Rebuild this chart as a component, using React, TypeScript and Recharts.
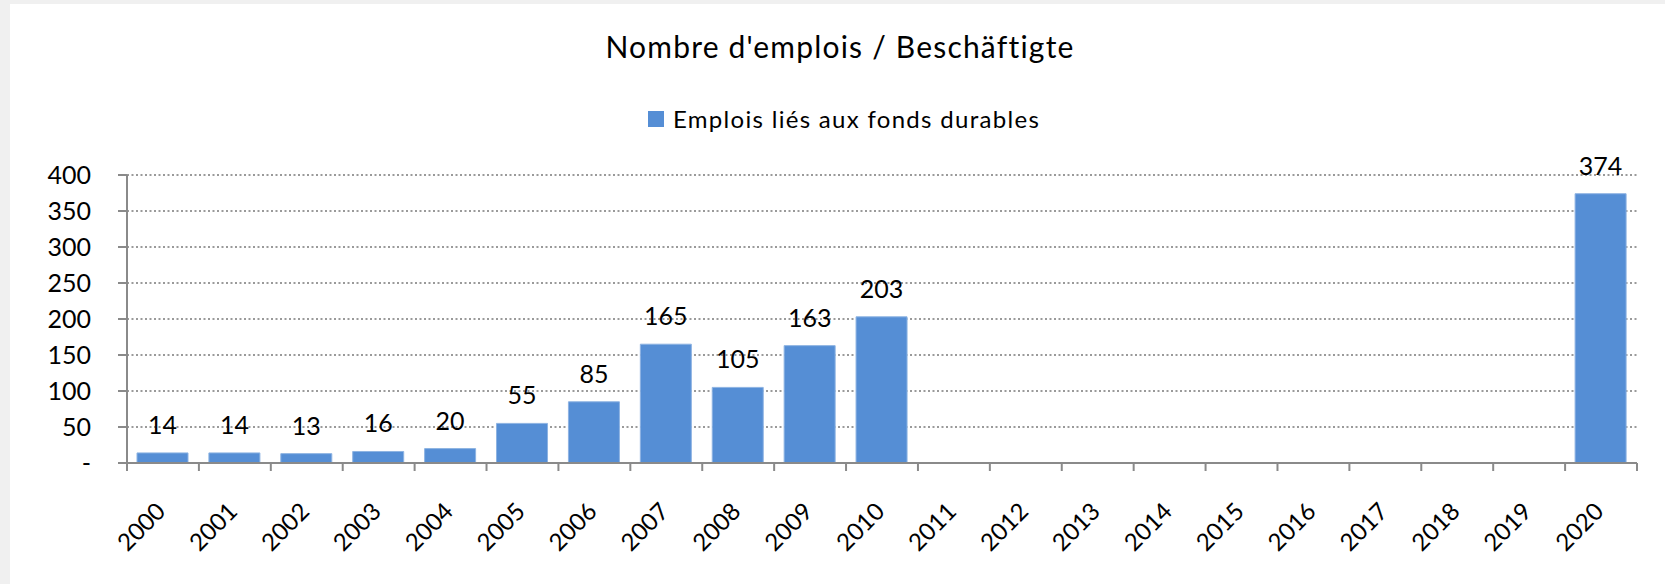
import React from 'react';
import { BarChart, Bar, XAxis, YAxis, CartesianGrid, LabelList } from 'recharts';

// Années et emplois liés aux fonds durables (2011-2019 : pas de données)
const YEARS = [
  '2000', '2001', '2002', '2003', '2004', '2005', '2006', '2007', '2008', '2009', '2010',
  '2011', '2012', '2013', '2014', '2015', '2016', '2017', '2018', '2019', '2020',
];
const EMPLOIS: (number | null)[] = [
  14, 14, 13, 16, 20, 55, 85, 165, 105, 163, 203,
  null, null, null, null, null, null, null, null, null, 374,
];
const Y_TICKS = [0, 50, 100, 150, 200, 250, 300, 350, 400];

const TITLE = "Nombre d'emplois / Beschäftigte";
const SERIES_NAME = 'Emplois liés aux fonds durables';

const FONT = 'Lato, "Open Sans", sans-serif';
const BAR_COLOR = '#558ed5';
const AXIS_COLOR = '#8a8a8a';

const CHART_W = 1655;
const CHART_H = 580;
const MARGIN = { top: 171, right: 28, bottom: 21, left: 0 };
const Y_AXIS_W = 117;
const PLOT_W = CHART_W - MARGIN.right - MARGIN.left - Y_AXIS_W;
const BAND = PLOT_W / YEARS.length;

const data = YEARS.map((year, i) => ({ year, value: EMPLOIS[i] }));

function YearTick(props: any) {
  const { x, y, payload, index } = props;
  const left = x - BAND / 2;
  return (
    <g>
      <line x1={left} x2={left} y1={y} y2={y + 8} stroke={AXIS_COLOR} strokeWidth={2} />
      {index === YEARS.length - 1 && (
        <line x1={x + BAND / 2} x2={x + BAND / 2} y1={y} y2={y + 8} stroke={AXIS_COLOR} strokeWidth={2} />
      )}
      <text
        x={0}
        y={0}
        transform={`translate(${x + 4},${y + 50}) rotate(-45)`}
        textAnchor="end"
        fontSize={24}
        fontFamily={FONT}
        fill="#000"
      >
        {payload.value}
      </text>
    </g>
  );
}

export default function App() {
  return (
    <div
      style={{
        position: 'absolute',
        left: 0,
        top: 0,
        width: 1665,
        height: 584,
        background: '#f0f0f0',
        fontFamily: FONT,
      }}
    >
      <div style={{ position: 'absolute', left: 10, top: 4, width: CHART_W, height: CHART_H, background: '#fff' }}>
        <div
          style={{
            position: 'absolute',
            left: 0,
            width: 1660,
            top: 24,
            textAlign: 'center',
            fontSize: 30,
            letterSpacing: 1.2,
            lineHeight: '36px',
            color: '#000',
          }}
        >
          {TITLE}
        </div>
        <div
          style={{
            position: 'absolute',
            left: 638,
            top: 100,
            display: 'flex',
            alignItems: 'center',
            fontSize: 24,
            letterSpacing: 1.3,
            lineHeight: '30px',
            color: '#000',
          }}
        >
          <span style={{ display: 'inline-block', width: 16, height: 16, background: BAR_COLOR, marginRight: 9 }} />
          {SERIES_NAME}
        </div>
        <BarChart width={CHART_W} height={CHART_H} data={data} margin={MARGIN} barSize={51}>
          <CartesianGrid
            vertical={false}
            stroke="#9a9a9a"
            strokeWidth={2}
            strokeDasharray="2 2.5"
          />
          <XAxis
            dataKey="year"
            interval={0}
            height={100}
            axisLine={{ stroke: AXIS_COLOR, strokeWidth: 2 }}
            tickLine={false}
            tickSize={0}
            tickMargin={0}
            tick={<YearTick />}
          />
          <YAxis
            width={Y_AXIS_W}
            domain={[0, 400]}
            ticks={Y_TICKS}
            interval={0}
            axisLine={{ stroke: AXIS_COLOR, strokeWidth: 2 }}
            tickLine={{ stroke: AXIS_COLOR, strokeWidth: 2 }}
            tickSize={9}
            tickMargin={27}
            tickFormatter={(v: number) => (v === 0 ? '-' : String(v))}
            tick={{ fill: '#000', fontSize: 25, fontFamily: FONT }}
          />
          <Bar dataKey="value" fill={BAR_COLOR} stroke="#8db3e2" strokeWidth={1} isAnimationActive={false}>
            <LabelList
              dataKey="value"
              position="top"
              offset={19}
              fill="#000"
              fontSize={25}
              fontFamily={FONT}
              formatter={(v: any) => (v == null ? '' : v)}
            />
          </Bar>
        </BarChart>
      </div>
    </div>
  );
}
